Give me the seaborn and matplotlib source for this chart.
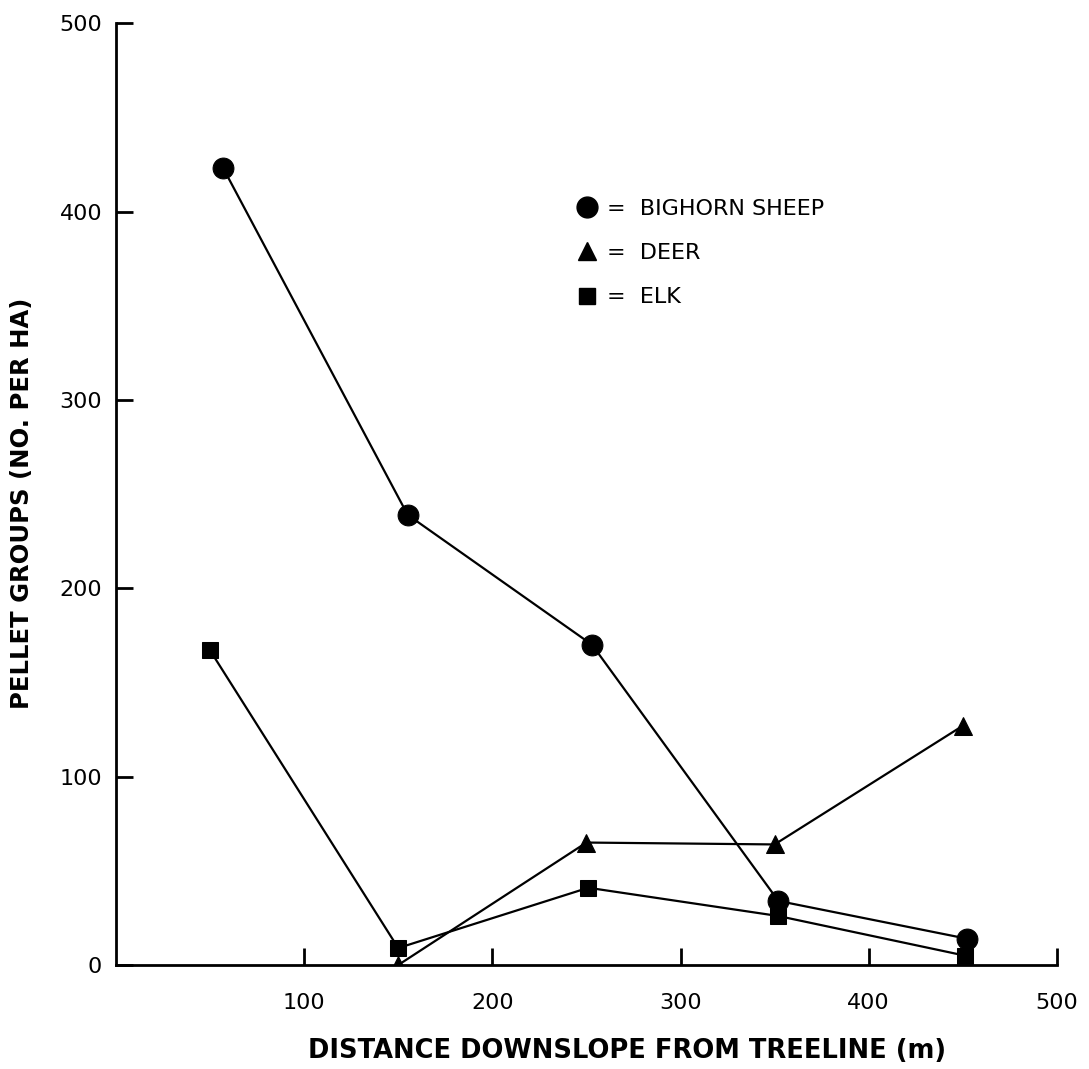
import matplotlib
matplotlib.use("Agg")
import matplotlib.pyplot as plt
import seaborn as sns
import pandas as pd
from matplotlib.lines import Line2D

# ---- data ----
sheep_x = [57, 155, 253, 352, 452]
sheep_y = [423, 239, 170, 34, 14]
deer_x = [150, 250, 350, 450]
deer_y = [0, 65, 64, 127]
elk_x = [50, 150, 251, 352, 451]
elk_y = [167, 9, 41, 26, 5]
species = ["BIGHORN SHEEP", "DEER", "ELK"]
x_ticks = [100, 200, 300, 400, 500]
y_ticks = [0, 100, 200, 300, 400, 500]

df = pd.concat([
    pd.DataFrame({"x": sheep_x, "y": sheep_y, "sp": species[0]}),
    pd.DataFrame({"x": deer_x, "y": deer_y, "sp": species[1]}),
    pd.DataFrame({"x": elk_x, "y": elk_y, "sp": species[2]}),
], ignore_index=True)

sns.set_theme(style="white")
plt.rcParams['font.family'] = ['DejaVu Sans']
plt.rcParams['text.color'] = 'black'
plt.rcParams['axes.labelcolor'] = 'black'
plt.rcParams['xtick.color'] = 'black'
plt.rcParams['ytick.color'] = 'black'

fig = plt.figure(figsize=(10.89, 10.69), dpi=100)
ax = fig.add_axes([0.1065, 0.0973, 0.864, 0.881])

markers = {species[0]: "o", species[1]: "^", species[2]: "s"}
sizes = {species[0]: 15, species[1]: 12.5, species[2]: 12}
for sp in species:
    sub = df[df["sp"] == sp]
    sns.lineplot(data=sub, x="x", y="y", ax=ax, color="black", linewidth=1.6,
                 marker=markers[sp], markersize=sizes[sp], markeredgecolor="black",
                 markerfacecolor="black", estimator=None, sort=False, legend=False)

ax.set_xlim(0, 500)
ax.set_ylim(0, 500)
ax.set_xticks(x_ticks)
ax.set_yticks(y_ticks)
ax.set_xticklabels([str(v) for v in x_ticks], fontsize=16)
ax.set_yticklabels([str(v) for v in y_ticks], fontsize=16)
for s in ["top", "right"]:
    ax.spines[s].set_visible(False)
for s in ["left", "bottom"]:
    ax.spines[s].set_color("black")
    ax.spines[s].set_linewidth(2)
ax.tick_params(axis="both", direction="in", length=12, width=2, colors="black",
               left=True, bottom=True, pad=10)
ax.tick_params(axis="x", pad=20)
ax.set_xlabel("DISTANCE DOWNSLOPE FROM TREELINE (m)", fontsize=18.5, fontweight="bold",
              color="black")
ax.xaxis.set_label_coords(0.543, -0.078)
ax.set_ylabel("PELLET GROUPS (NO. PER HA)", fontsize=17.5, fontweight="bold",
              color="black")
ax.yaxis.set_label_coords(-0.087, 0.49)
ax.grid(False)

handles = [Line2D([], [], linestyle="none", marker=markers[sp], color="black",
                  markersize=sizes[sp]) for sp in species]
leg = ax.legend(handles, ["=  " + sp for sp in species], loc="upper left",
                bbox_to_anchor=(0.47, 0.835), frameon=False, fontsize=16,
                handlelength=0.8, handletextpad=0.5, labelspacing=1.1)
for t in leg.get_texts():
    t.set_color("black")

fig.savefig("out.png", dpi=100, facecolor="white")
